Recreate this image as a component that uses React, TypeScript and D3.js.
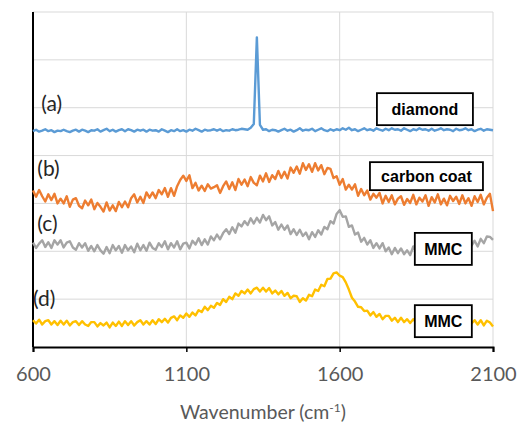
import React, { useEffect, useRef } from "react";
import * as d3 from "d3";

// sampling grid of the spectra (cm-1)
const wavenumbers = d3.range(600, 2101, 10);
const xTicks = [600, 1100, 1600, 2100];
const yGrid = [10, 20, 30, 40, 50, 60, 70];

// intensities (a.u., offset for stacking)
const diamond = [
  45.1, 45.4, 45.0, 45.2, 45.5, 45.1, 45.3, 44.9, 45.2, 45.1,
  45.4, 45.1, 44.9, 45.2, 45.4, 45.0, 45.4, 45.2, 44.9, 45.3,
  45.2, 45.5, 45.0, 45.3, 45.6, 45.1, 45.4, 45.0, 45.3, 45.5,
  45.1, 45.5, 45.3, 45.0, 45.4, 45.2, 45.4, 45.0, 45.4, 45.2,
  45.3, 45.0, 45.5, 45.2, 44.9, 45.3, 45.1, 45.5, 45.1, 45.3,
  45.0, 45.4, 45.2, 45.6, 45.3, 45.0, 45.4, 45.2, 45.3, 45.5,
  45.2, 45.5, 45.1, 45.3, 45.2, 45.5, 45.3, 45.4, 45.6, 45.5,
  45.4, 45.8, 46.6, 64.7, 46.4, 45.4, 45.5, 45.1, 45.4, 45.3,
  45.0, 45.3, 45.6, 45.2, 45.4, 45.0, 45.3, 45.7, 45.2, 45.4,
  45.3, 45.6, 45.1, 45.4, 45.7, 45.3, 45.1, 45.5, 45.2, 45.5,
  45.3, 45.7, 45.4, 45.8, 45.3, 45.5, 45.1, 45.4, 45.7, 45.3,
  45.5, 45.2, 45.7, 45.4, 45.2, 45.6, 45.3, 45.7, 45.4, 45.5,
  45.2, 45.7, 45.4, 45.1, 45.5, 45.3, 45.7, 45.4, 45.5, 45.2,
  45.6, 45.2, 45.4, 45.7, 45.3, 45.5, 45.4, 45.1, 45.6, 45.3,
  45.4, 45.7, 45.3, 45.5, 45.1, 45.4, 45.6, 45.2, 45.5, 45.4,
  45.3,
];

const carbonCoat = [
  32.7, 31.4, 32.8, 31.5, 30.4, 31.9, 30.7, 32.0, 30.0, 31.0,
  30.0, 31.5, 29.3, 30.8, 31.1, 29.5, 29.0, 30.6, 29.6, 30.8,
  28.8, 30.1, 29.3, 28.3, 30.2, 28.5, 29.6, 28.4, 30.3, 29.2,
  30.4, 29.2, 31.1, 31.9, 30.2, 31.4, 30.1, 32.3, 31.2, 32.3,
  31.1, 32.8, 31.9, 33.2, 31.4, 33.2, 31.6, 33.6, 34.9, 35.8,
  34.7, 35.9, 33.2, 34.3, 32.7, 33.7, 32.6, 34.0, 33.1, 33.4,
  33.8, 32.2, 33.6, 34.6, 33.0, 34.4, 32.8, 35.1, 33.9, 35.0,
  33.6, 35.5, 34.3, 33.8, 35.8, 34.6, 36.3, 34.5, 35.9, 35.1,
  36.8, 35.3, 36.6, 35.2, 37.5, 36.4, 37.7, 36.2, 38.4, 37.0,
  38.2, 36.6, 38.4, 36.9, 38.0, 36.1, 37.4, 37.2, 35.3, 35.7,
  33.9, 35.1, 32.9, 33.9, 32.9, 34.0, 31.6, 33.0, 31.7, 32.7,
  30.8, 32.0, 31.2, 32.2, 30.0, 31.6, 30.3, 31.7, 29.8, 31.0,
  31.5, 29.7, 30.9, 30.1, 31.8, 29.8, 31.2, 30.4, 31.7, 29.5,
  31.3, 30.2, 31.9, 29.8, 31.0, 29.6, 31.6, 30.5, 31.4, 29.9,
  31.7, 30.0, 31.1, 29.5, 31.5, 30.3, 31.8, 29.8, 31.2, 32.0,
  28.4,
];

const mmcC = [
  21.8, 20.7, 21.6, 22.3, 20.9, 21.9, 20.7, 22.3, 21.4, 22.3,
  20.8, 21.8, 22.1, 20.8, 20.3, 21.7, 20.8, 21.7, 20.1, 21.1,
  20.0, 21.3, 20.2, 19.5, 20.9, 19.6, 21.3, 20.2, 21.1, 19.7,
  21.3, 20.2, 21.0, 19.8, 21.6, 20.2, 21.3, 20.1, 21.8, 20.7,
  20.3, 21.7, 20.9, 22.1, 20.4, 21.7, 20.8, 22.1, 20.4, 21.6,
  21.8, 20.6, 22.2, 21.4, 22.7, 21.3, 22.5, 21.4, 23.1, 22.3,
  23.5, 22.5, 23.8, 24.6, 23.6, 25.0, 23.9, 25.8, 25.2, 26.3,
  25.5, 26.9, 25.8, 27.0, 26.0, 27.6, 26.5, 27.3, 25.4, 26.1,
  24.5, 25.6, 24.5, 25.4, 23.6, 24.6, 23.4, 24.5, 23.2, 23.9,
  22.5, 24.0, 23.0, 24.4, 23.5, 25.1, 24.6, 26.3, 25.8, 27.8,
  28.6, 27.2, 27.3, 25.1, 25.4, 23.5, 23.9, 22.0, 22.8, 21.4,
  22.3, 20.7, 21.7, 20.6, 21.7, 20.0, 20.8, 19.4, 20.7, 19.6,
  20.6, 19.4, 20.2, 19.2, 21.0, 19.7, 20.8, 19.6, 20.9, 19.9,
  21.4, 20.1, 21.1, 19.9, 21.5, 20.7, 21.8, 20.3, 21.7, 20.7,
  21.9, 20.7, 22.3, 21.2, 22.2, 21.0, 22.6, 21.7, 23.1, 23.0,
  22.4,
];

const mmcD = [
  5.6, 4.9, 5.7, 4.7, 5.4, 5.6, 4.7, 5.4, 4.6, 5.5,
  4.7, 5.5, 4.5, 5.2, 5.4, 4.6, 5.4, 4.7, 4.4, 5.2,
  5.2, 4.3, 5.0, 4.5, 5.1, 4.1, 5.1, 4.4, 5.3, 4.4,
  5.4, 4.6, 5.4, 4.5, 5.2, 5.6, 4.7, 5.4, 4.7, 5.6,
  4.8, 5.8, 5.2, 5.9, 5.1, 6.1, 6.4, 5.6, 6.6, 6.1,
  7.0, 6.3, 7.2, 6.6, 7.7, 7.3, 8.4, 7.7, 8.6, 8.2,
  9.2, 8.8, 10.0, 9.4, 10.5, 10.0, 11.2, 10.7, 11.7, 11.2,
  12.0, 11.2, 12.1, 12.4, 11.6, 12.4, 11.6, 12.3, 11.2, 11.8,
  11.0, 11.7, 10.7, 11.3, 10.2, 10.7, 10.6, 9.4, 10.2, 9.7,
  10.9, 10.6, 12.0, 11.7, 13.0, 12.7, 14.2, 14.3, 15.4, 15.6,
  14.9, 14.6, 13.5, 12.0, 10.3, 9.5, 8.4, 8.3, 7.5, 7.6,
  6.6, 7.3, 6.3, 6.9, 5.8, 6.5, 6.5, 5.5, 6.1, 5.2,
  6.1, 5.2, 5.8, 5.0, 5.8, 5.1, 5.8, 4.8, 5.5, 5.6,
  4.8, 5.7, 4.7, 5.5, 5.0, 5.7, 4.8, 5.6, 4.7, 5.5,
  5.6, 4.7, 5.7, 4.9, 5.6, 4.7, 5.6, 4.5, 5.5, 5.1,
  4.3,
];

const seriesList = [
  { name: "diamond", values: diamond, color: "#5B9BD5" },
  { name: "carbon coat", values: carbonCoat, color: "#ED7D31" },
  { name: "MMC (c)", values: mmcC, color: "#A5A5A5" },
  { name: "MMC (d)", values: mmcD, color: "#FFC000" },
];

// letter tags, placed in data units
const tags = [
  { text: "(a)", w: 627, v: 50.9 },
  { text: "(b)", w: 614, v: 37.2 },
  { text: "(c)", w: 614, v: 25.7 },
  { text: "(d)", w: 600, v: 10.0 },
];

// boxed sample names, centred in data units
const boxes = [
  { text: "diamond", w: 1878, v: 49.7, bw: 96, bh: 32 },
  { text: "carbon coat", w: 1883, v: 35.7, bw: 113, bh: 28 },
  { text: "MMC", w: 1938, v: 20.5, bw: 57, bh: 32 },
  { text: "MMC", w: 1938, v: 5.4, bw: 57, bh: 32 },
];

const App = () => {
  const svgRef = useRef<SVGSVGElement>(null);

  useEffect(() => {
    const W = 527;
    const H = 425;
    const svg = d3.select(svgRef.current).attr("width", W).attr("height", H);
    svg.selectAll("*").remove();

    const x = d3.scaleLinear().domain([600, 2100]).range([33, 493]);
    const y = d3.scaleLinear().domain([0, 70]).range([347, 12]);

    svg.append("rect").attr("width", W).attr("height", H).attr("fill", "#fff");

    // grid
    svg
      .append("g")
      .selectAll("line")
      .data(yGrid)
      .enter()
      .append("line")
      .attr("x1", x(600))
      .attr("x2", x(2100))
      .attr("y1", (d) => y(d))
      .attr("y2", (d) => y(d))
      .attr("stroke", "#d9d9d9")
      .attr("stroke-width", 1);

    svg
      .append("g")
      .selectAll("line")
      .data(xTicks.slice(1))
      .enter()
      .append("line")
      .attr("x1", (d) => x(d))
      .attr("x2", (d) => x(d))
      .attr("y1", y(70))
      .attr("y2", y(0))
      .attr("stroke", "#d9d9d9")
      .attr("stroke-width", 1);

    // axes
    const xAxis = svg
      .append("g")
      .attr("transform", `translate(0,${y(0)})`)
      .call(d3.axisBottom(x).tickValues(xTicks).tickSize(5).tickFormat(d3.format("d")));
    xAxis.select(".domain").attr("stroke", "#000").attr("stroke-width", 2);
    xAxis.selectAll(".tick line").attr("stroke", "#000").attr("stroke-width", 1.5);
    xAxis
      .selectAll(".tick text")
      .attr("y", 34)
      .attr("dy", 0)
      .style("font-family", "Lato, 'Open Sans', sans-serif")
      .style("font-size", "20px")
      .style("fill", "#595959");

    svg
      .append("line")
      .attr("x1", x(600))
      .attr("x2", x(600))
      .attr("y1", y(70))
      .attr("y2", y(0))
      .attr("stroke", "#000")
      .attr("stroke-width", 2);

    const title = svg
      .append("text")
      .attr("x", (x(600) + x(2100)) / 2)
      .attr("y", 419)
      .attr("text-anchor", "middle")
      .style("font-family", "Lato, 'Open Sans', sans-serif")
      .style("font-size", "19.5px")
      .style("fill", "#595959");
    title.append("tspan").text("Wavenumber (cm");
    title.append("tspan").attr("dy", -7).style("font-size", "12px").text("-1");
    title.append("tspan").attr("dy", 7).text(")");

    // spectra
    const line = d3
      .line<number>()
      .x((_, i) => x(wavenumbers[i]))
      .y((d) => y(d));

    svg
      .append("g")
      .selectAll("path")
      .data(seriesList)
      .enter()
      .append("path")
      .attr("d", (d) => line(d.values))
      .attr("fill", "none")
      .attr("stroke", (d) => d.color)
      .attr("stroke-width", 2.4)
      .attr("stroke-linejoin", "round");

    // tags
    svg
      .append("g")
      .selectAll("text")
      .data(tags)
      .enter()
      .append("text")
      .attr("x", (d) => x(d.w))
      .attr("y", (d) => y(d.v))
      .attr("dy", "0.35em")
      .style("font-family", "Lato, 'Open Sans', sans-serif")
      .style("font-size", "21px")
      .style("fill", "#262626")
      .text((d) => d.text);

    // boxed labels
    const bg = svg.append("g").selectAll("g").data(boxes).enter().append("g");
    bg.append("rect")
      .attr("x", (d) => x(d.w) - d.bw / 2)
      .attr("y", (d) => y(d.v) - d.bh / 2)
      .attr("width", (d) => d.bw)
      .attr("height", (d) => d.bh)
      .attr("fill", "#fff")
      .attr("stroke", "#000")
      .attr("stroke-width", 1.8);
    bg.append("text")
      .attr("x", (d) => x(d.w))
      .attr("y", (d) => y(d.v))
      .attr("dy", "0.36em")
      .attr("text-anchor", "middle")
      .style("font-family", "'Liberation Sans', Arial, sans-serif")
      .style("font-weight", "bold")
      .style("font-size", "16px")
      .style("fill", "#000")
      .text((d) => d.text);
  }, []);

  return (
    <svg
      ref={svgRef}
      style={{ position: "absolute", left: 0, top: 0, display: "block" }}
    />
  );
};

export default App;
